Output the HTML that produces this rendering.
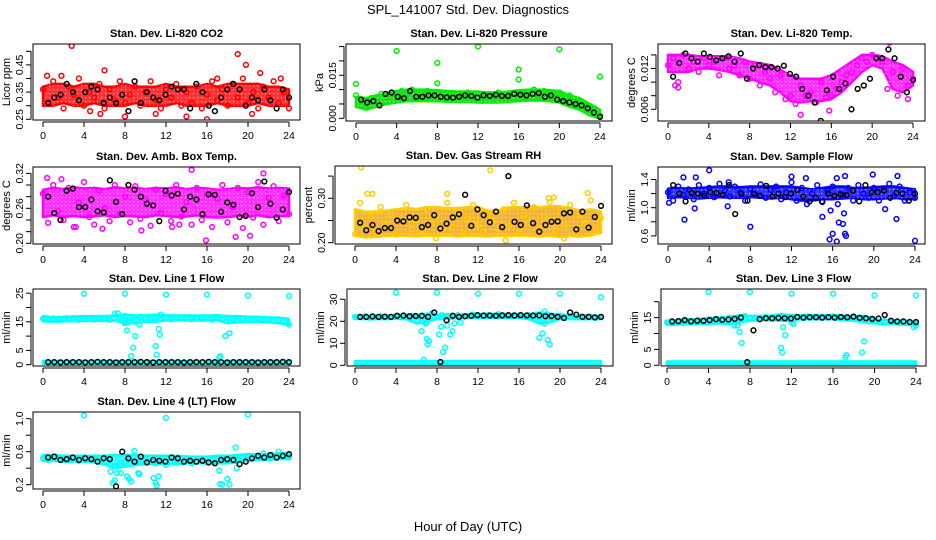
<!DOCTYPE html>
<html><head><meta charset="utf-8"><style>
body{margin:0;background:#fff;}
svg{display:block;font-family:"Liberation Sans",sans-serif;}
</style></head><body>
<svg id="chart" width="936" height="540" viewBox="0 0 936 540" xmlns="http://www.w3.org/2000/svg">
<defs>
<pattern id="speck" width="4" height="4" patternUnits="userSpaceOnUse"><rect x="1" y="1" width="1.2" height="1.2" fill="#fff" fill-opacity="0.55"/></pattern>
</defs>
<rect width="936" height="540" fill="#fff"/>
<text x="468" y="14" font-size="13" text-anchor="middle">SPL_141007  Std. Dev. Diagnostics</text>
<text x="468" y="531" font-size="13" text-anchor="middle">Hour of Day (UTC)</text>
</svg>
<script>
const xTicks=[0,4,8,12,16,20,24];
// CO2
const co2Lo=[0.30,0.30,0.31,0.30,0.30,0.31,0.30,0.30,0.30,0.31,0.30,0.30,0.30,0.31,0.30,0.30,0.30,0.31,0.30,0.30,0.30,0.31,0.30,0.30,0.30];
const co2Hi=[0.37,0.38,0.38,0.37,0.38,0.38,0.37,0.37,0.38,0.37,0.37,0.37,0.38,0.37,0.37,0.37,0.38,0.37,0.38,0.38,0.38,0.38,0.37,0.37,0.36];
const co2Vals=[0.36,0.31,0.39,0.33,0.29,0.37,0.34,0.40,0.30,0.35,0.33,0.38,0.29,0.36,0.32,0.39,0.31,0.34,0.37,0.30,0.35,0.39,0.32,0.29,0.36,0.33,0.38,0.30,0.35,0.31,0.37,0.29,0.34,0.39,0.32,0.36,0.30,0.38,0.33,0.40,0.31,0.35,0.29,0.37,0.33,0.39,0.31,0.35,0.29];
const co2Black=[0.31,0.33,0.34,0.38,0.35,0.32,0.35,0.37,0.36,0.31,0.33,0.31,0.34,0.28,0.39,0.31,0.35,0.33,0.32,0.34,0.37,0.36,0.36,0.29,0.38,0.35,0.30,0.28,0.33,0.36,0.38,0.36,0.30,0.33,0.32,0.36,0.32,0.29,0.36,0.33];
const co2OutX=[2.8,19,19.8,6,0.4,4.6,5.6,8,11,14,16,20.4,17,21.2,23.2,1.8];
const co2OutY=[0.52,0.49,0.45,0.43,0.41,0.28,0.27,0.26,0.27,0.26,0.25,0.27,0.40,0.42,0.40,0.41];
const co2Ticks=[0.25,0.30,0.35,0.40,0.45,0.50];
const co2Labels=["0.25","","0.35","","0.45",""];
// Pressure
const prLo=[0.0040,0.0030,0.0040,0.0050,0.0055,0.0060,0.0060,0.0060,0.0060,0.0058,0.0058,0.0058,0.0055,0.0055,0.0055,0.0058,0.0060,0.0062,0.0062,0.0060,0.0055,0.0040,0.0030,0.0010,0.0000];
const prHi=[0.0075,0.0070,0.0080,0.0085,0.0095,0.0100,0.0100,0.0100,0.0098,0.0095,0.0093,0.0093,0.0093,0.0090,0.0090,0.0093,0.0098,0.0100,0.0100,0.0098,0.0095,0.0080,0.0070,0.0050,0.0030];
const prVals=[0.0080,0.0060,0.0050,0.0070,0.0060,0.0085,0.0075,0.0090,0.0070,0.0095,0.0080,0.0100,0.0085,0.0075,0.0095,0.0080,0.0070,0.0090,0.0075,0.0085,0.0070,0.0080,0.0090,0.0075,0.0085,0.0070,0.0080,0.0065,0.0090,0.0075,0.0080,0.0070,0.0085,0.0090,0.0075,0.0100,0.0080,0.0095,0.0085,0.0075,0.0090,0.0070,0.0080,0.0060,0.0050,0.0040,0.0030,0.0015,0.0010];
const prBlack=[0.0065,0.0055,0.0060,0.0045,0.0085,0.0090,0.0075,0.0070,0.0095,0.0075,0.0075,0.0080,0.0080,0.0075,0.0073,0.0072,0.0075,0.0080,0.0078,0.0072,0.0080,0.0078,0.0082,0.0078,0.0078,0.0085,0.0082,0.0080,0.0085,0.0088,0.0075,0.0080,0.0065,0.0060,0.0055,0.0050,0.0045,0.0035,0.0020,0.0005];
const prOutX=[0,4,8,8,12,16,16,20,24];
const prOutY=[0.0120,0.0235,0.0193,0.0122,0.0250,0.0170,0.0135,0.0240,0.0145];
const prTicks=[0,0.005,0.010,0.015,0.020,0.025];
const prLabels=["0.000","","","0.015","",""];
// Li-820 temp
const tpLo=[0.0115,0.0115,0.0115,0.0120,0.0120,0.0118,0.0115,0.0110,0.0105,0.0100,0.0095,0.0085,0.0072,0.0070,0.0072,0.0072,0.0075,0.0085,0.0100,0.0115,0.0125,0.0120,0.0090,0.0085,0.0095];
const tpHi=[0.0140,0.0140,0.0140,0.0138,0.0138,0.0138,0.0138,0.0135,0.0130,0.0128,0.0125,0.0118,0.0110,0.0105,0.0105,0.0105,0.0110,0.0120,0.0130,0.0140,0.0140,0.0138,0.0130,0.0125,0.0115];
const tpVals=[0.0125,0.0135,0.0100,0.0140,0.0120,0.0130,0.0115,0.0135,0.0125,0.0130,0.0110,0.0135,0.0120,0.0125,0.0110,0.0130,0.0105,0.0125,0.0095,0.0115,0.0105,0.0085,0.0110,0.0075,0.0080,0.0068,0.0095,0.0080,0.0085,0.0070,0.0100,0.0078,0.0080,0.0090,0.0100,0.0110,0.0115,0.0125,0.0135,0.0130,0.0140,0.0135,0.0130,0.0090,0.0115,0.0080,0.0120,0.0095,0.0105];
const tpBlack=[0.0108,0.0128,0.0142,0.0135,0.0130,0.0142,0.0137,0.0132,0.0135,0.0138,0.0130,0.0142,0.0105,0.0120,0.0125,0.0122,0.0122,0.0120,0.0124,0.0112,0.0108,0.0090,0.0080,0.0070,0.0043,0.0088,0.0108,0.0090,0.0098,0.0060,0.0090,0.0095,0.0105,0.0135,0.0135,0.0148,0.0135,0.0108,0.0085,0.0103];
const tpOutX=[13,15.8,21.7,23.5,0.7,1];
const tpOutY=[0.0052,0.0058,0.0158,0.0075,0.0095,0.0092];
const tpTicks=[0.006,0.008,0.010,0.012,0.014];
const tpLabels=["0.006","","","0.012",""];
// Amb box temp
const amLo=[0.245,0.248,0.245,0.247,0.245,0.246,0.248,0.245,0.247,0.246,0.245,0.248,0.247,0.245,0.246,0.248,0.245,0.244,0.245,0.247,0.246,0.248,0.245,0.246,0.247];
const amHi=[0.292,0.295,0.293,0.296,0.294,0.295,0.293,0.296,0.294,0.295,0.293,0.295,0.294,0.296,0.293,0.295,0.294,0.292,0.293,0.295,0.294,0.296,0.294,0.295,0.294];
const amVals=[0.285,0.235,0.300,0.255,0.240,0.295,0.228,0.270,0.305,0.245,0.232,0.290,0.260,0.238,0.300,0.250,0.280,0.236,0.298,0.242,0.275,0.230,0.292,0.252,0.285,0.238,0.300,0.246,0.270,0.232,0.295,0.240,0.284,0.228,0.276,0.300,0.236,0.262,0.295,0.226,0.288,0.244,0.305,0.232,0.278,0.298,0.238,0.282,0.250];
const amBlack=[0.280,0.252,0.240,0.290,0.294,0.262,0.262,0.275,0.255,0.253,0.308,0.271,0.250,0.300,0.292,0.280,0.268,0.265,0.238,0.290,0.282,0.285,0.258,0.280,0.275,0.250,0.284,0.283,0.254,0.270,0.266,0.245,0.247,0.286,0.262,0.306,0.268,0.244,0.258,0.288];
const amOutX=[14.5,21.5,15.9,18.8,20.2,0.4,1.8,5.8,9.6,3.2,12.6,13.3];
const amOutY=[0.326,0.320,0.205,0.211,0.213,0.312,0.310,0.225,0.222,0.228,0.228,0.232];
const amTicks=[0.20,0.22,0.24,0.26,0.28,0.30,0.32];
const amLabels=["0.20","","","0.26","","","0.32"];
// Gas stream RH
const rhLo=[0.215,0.212,0.213,0.215,0.216,0.215,0.214,0.216,0.215,0.216,0.214,0.215,0.215,0.214,0.216,0.215,0.216,0.215,0.214,0.215,0.213,0.215,0.214,0.216,0.222];
const rhHi=[0.275,0.270,0.270,0.272,0.275,0.278,0.276,0.280,0.280,0.278,0.278,0.280,0.280,0.272,0.272,0.280,0.280,0.282,0.280,0.282,0.282,0.278,0.272,0.275,0.270];
const rhVals=[0.220,0.290,0.235,0.260,0.225,0.280,0.240,0.265,0.218,0.255,0.285,0.230,0.250,0.220,0.275,0.245,0.260,0.230,0.290,0.235,0.270,0.222,0.255,0.285,0.240,0.225,0.265,0.248,0.230,0.275,0.238,0.290,0.220,0.262,0.245,0.280,0.230,0.258,0.292,0.228,0.270,0.240,0.285,0.222,0.262,0.245,0.295,0.230,0.255];
const rhBlack=[0.245,0.228,0.240,0.226,0.233,0.233,0.250,0.248,0.257,0.256,0.235,0.240,0.262,0.232,0.243,0.257,0.264,0.308,0.238,0.275,0.262,0.246,0.270,0.235,0.350,0.247,0.240,0.284,0.244,0.225,0.240,0.247,0.248,0.266,0.268,0.230,0.270,0.234,0.258,0.283];
const rhOutX=[0.6,13.2,1.2,1.7,18.9,22.7,14.7,7.9,20.4,9,19.4];
const rhOutY=[0.370,0.363,0.310,0.310,0.300,0.312,0.205,0.210,0.210,0.310,0.302];
const rhTicks=[0.20,0.25,0.30,0.35];
const rhLabels=["0.20","","0.30",""];
// Sample flow
const sfLo=[1.14,1.15,1.14,1.13,1.14,1.15,1.14,1.14,1.15,1.14,1.13,1.14,1.12,1.10,1.10,1.12,1.12,1.13,1.14,1.12,1.12,1.13,1.14,1.12,1.12];
const sfHi=[1.27,1.28,1.27,1.28,1.29,1.30,1.30,1.29,1.30,1.30,1.30,1.30,1.30,1.28,1.26,1.28,1.30,1.30,1.28,1.28,1.29,1.30,1.30,1.28,1.26];
const sfVals=[1.22,1.10,1.30,1.18,1.26,1.12,1.32,1.20,1.28,1.15,1.34,1.24,1.16,1.30,1.22,1.10,1.27,1.19,1.33,1.14,1.25,1.30,1.12,1.22,1.36,1.10,1.28,1.05,1.20,1.32,1.08,1.24,1.30,1.05,1.18,1.28,1.10,1.32,1.20,1.14,1.28,1.10,1.24,1.34,1.16,1.30,1.10,1.22,1.14];
const sfBlack=[1.32,1.20,1.09,1.21,1.20,1.17,1.22,1.21,1.18,1.32,0.91,1.20,1.10,1.20,1.17,1.31,1.16,1.20,1.15,1.20,1.25,1.16,1.09,1.14,1.09,1.20,1.17,1.19,1.18,1.24,1.09,1.32,1.22,1.22,1.24,1.14,1.21,1.20,1.10,1.20];
const sfOutX=[0.1,1.5,1.6,2.7,2.6,4,5.8,8,12,13.4,15,15.7,15.8,16,16.4,16.6,17,17.1,17.2,17.3,17.2,19.9,22.2,22.3,24,16.4,21.1,5.9];
const sfOutY=[1.07,1.43,0.83,1.43,0.99,1.53,1.02,0.73,1.44,1.42,0.87,0.55,0.96,0.63,0.52,0.79,0.77,0.92,0.63,0.60,1.45,1.47,0.84,1.45,0.53,1.42,0.98,1.36];
const sfTicks=[0.6,0.8,1.0,1.2,1.4];
const sfLabels=["0.6","","1.0","","1.4"];
// Line 1
const l1Lo=[15.2,15.0,15.2,15.2,15.3,15.3,15.3,15.4,14.5,14.5,15.0,15.0,15.5,15.5,15.5,15.5,15.5,15.5,14.5,14.8,15.0,15.0,14.8,14.5,14.0];
const l1Hi=[17.0,16.5,16.8,16.8,17.0,17.0,17.0,17.2,17.5,17.2,17.2,17.5,17.3,17.2,17.2,17.2,17.2,17.3,17.0,17.0,16.8,16.8,16.5,16.5,16.0];
const l1BaseLo=[0.3,0.3,0.3,0.3,0.3,0.3,0.3,0.3,0.3,0.3,0.3,0.3,0.3,0.3,0.3,0.3,0.3,0.3,0.3,0.3,0.3,0.3,0.3,0.3,0.3];
const l1BaseHi=[1.3,1.3,1.3,1.3,1.3,1.3,1.3,1.3,1.3,1.3,1.3,1.3,1.3,1.3,1.3,1.3,1.3,1.3,1.3,1.3,1.3,1.3,1.3,1.3,1.3];
const l1Vals=[16.0,15.8,16.2,15.6,16.1,15.9,16.3,15.7,16.0,16.2,15.8,16.4,16.0,15.7,17.8,16.5,14.5,16.2,15.6,16.8,16.0,15.8,16.3,16.0,16.4,15.9,16.2,16.5,16.1,15.9,16.3,16.0,16.5,15.8,16.2,15.9,16.4,16.0,15.5,16.1,15.8,15.6,15.9,15.5,15.7,15.4,15.6,15.2,14.0];
const l1Black=[0.9,0.9,0.8,0.9,0.9,0.9,0.8,0.9,1.0,0.9,0.9,0.8,0.9,0.9,0.9,1.0,0.9,0.8,0.9,0.9,0.9,0.9,0.8,0.9,0.9,0.9,1.0,0.9,0.9,0.8,0.9,0.9,0.9,0.9,0.8,0.9,0.9,0.9,1.0,0.9];
const l1OutX=[4,8,12,16,20,24,7.3,8,8.2,8.4,8.6,8.8,9,9.4,11,11.1,11.3,11.4,11.5,17.3,17.2,17.8,18.2,15.8,17];
const l1OutY=[24.8,24.8,24.5,24.5,24.2,24,18,17,12,15,3,6,10,14,6.5,3.5,12.5,10.5,17.5,3,2.5,10,11,0,0];
const l1Ticks=[0,5,10,15,20,25];
const l1Labels=["0","5","","15","","25"];
// Line 2
const l2Lo=[21.2,21.0,21.0,21.0,21.2,21.0,19.0,20.0,21.0,21.2,21.5,21.5,21.5,21.5,21.5,21.5,21.5,21.0,19.0,19.5,21.0,21.0,21.0,21.0,21.0];
const l2Hi=[22.5,22.5,22.5,22.5,22.8,22.8,22.5,23.5,23.0,23.0,23.0,23.0,23.2,23.5,23.2,23.2,23.2,23.0,24.0,23.5,23.0,22.8,22.5,22.5,22.5];
const l2BaseLo=[0.3,0.3,0.3,0.3,0.3,0.3,0.3,0.3,0.3,0.3,0.3,0.3,0.3,0.3,0.3,0.3,0.3,0.3,0.3,0.3,0.3,0.3,0.3,0.3,0.3];
const l2BaseHi=[1.8,1.8,1.8,1.8,1.8,1.8,1.8,1.8,1.8,1.8,1.8,1.8,1.8,1.8,1.8,1.8,1.8,1.8,1.8,1.8,1.8,1.8,1.8,1.8,1.8];
const l2Vals=[22.0,21.8,22.2,21.6,22.0,22.3,21.8,22.0,22.4,21.9,22.2,22.5,22.0,20.0,19.5,23.5,22.2,22.8,22.5,22.0,22.8,22.3,22.5,23.0,22.6,22.4,22.8,22.5,23.2,22.6,22.4,22.8,22.6,22.3,22.7,22.5,20.0,23.0,22.0,21.5,22.6,22.0,22.3,21.8,22.0,21.7,22.1,21.6,21.9];
const l2Black=[22.0,22.0,22.2,22.0,22.1,22.0,22.5,22.6,22.3,22.4,22.5,22.0,24.0,1.5,20.5,22.5,22.0,22.3,22.5,22.8,22.6,22.6,22.5,22.7,22.8,22.6,22.8,22.7,22.6,22.7,22.3,22.4,22.0,21.5,24.0,23.0,22.0,22.0,21.8,22.0];
const l2OutX=[4,8,12,16,20,24,6.5,6.7,6.9,7,7.1,7.2,8.2,8.4,8.6,8.8,9,9.3,9.5,9.7,10.3,18,18.3,18.5,18.8,19,18.5];
const l2OutY=[33,33,32.5,32.5,32.5,31,15.5,2.5,19,12,9.5,11,14,17.5,6,8,18,14,15.5,19,19.5,12.5,14.5,19,11.5,9.5,24.5];
const l2Ticks=[0,10,20,30];
const l2Labels=["0","10","20","30"];
// Line 3
const l3Lo=[12.8,12.8,13.0,13.0,13.0,13.2,13.0,13.5,14.0,14.2,14.2,14.0,14.2,14.5,14.5,14.5,14.5,14.2,14.0,13.5,13.2,13.0,13.0,12.8,12.5];
const l3Hi=[14.0,14.2,14.5,14.5,14.8,15.0,15.2,15.8,15.5,15.5,15.6,16.0,15.8,15.8,15.8,15.8,15.8,15.5,15.5,15.5,14.5,14.2,14.2,14.0,13.8];
const l3BaseLo=[0.2,0.2,0.2,0.2,0.2,0.2,0.2,0.2,0.2,0.2,0.2,0.2,0.2,0.2,0.2,0.2,0.2,0.2,0.2,0.2,0.2,0.2,0.2,0.2,0.2];
const l3BaseHi=[1.2,1.2,1.2,1.2,1.2,1.2,1.2,1.2,1.2,1.2,1.2,1.2,1.2,1.2,1.2,1.2,1.2,1.2,1.2,1.2,1.2,1.2,1.2,1.2,1.2];
const l3Vals=[13.5,13.2,13.8,13.4,14.0,13.6,14.2,13.8,14.4,14.0,14.6,14.2,15.0,12.5,13.8,15.5,14.8,15.0,14.6,15.2,14.8,15.0,15.6,14.5,13.5,15.2,15.0,15.4,15.2,15.0,15.3,15.1,15.4,15.2,14.8,15.0,14.6,15.0,14.8,13.8,14.0,13.6,13.8,13.5,13.6,13.4,13.4,13.2,12.5];
const l3Black=[13.8,13.9,14.2,13.8,14.0,14.0,14.2,14.5,14.3,14.4,14.6,15.0,1.0,11.0,14.5,14.8,14.8,14.9,14.8,14.7,15.2,15.0,15.1,15.1,15.0,15.1,15.0,15.2,15.1,15.3,14.9,14.8,14.6,14.7,15.8,14.0,13.8,13.8,13.6,13.6];
const l3OutX=[4,8,12,16,20,24,7,7.2,6.8,11,11.1,11.2,11.4,11.6,12.2,17.2,17.3,18.8,19,23.8];
const l3OutY=[23,23,22.5,22.5,22,22,10.5,7,12.5,5.5,4,12,9.5,15,13,2.5,3.2,4,7.5,12];
const l3Ticks=[0,5,10,15,20];
const l3Labels=["0","5","","15",""];
// Line 4
const l4Lo=[0.49,0.49,0.48,0.48,0.48,0.47,0.45,0.40,0.42,0.44,0.45,0.45,0.45,0.45,0.46,0.46,0.46,0.46,0.46,0.47,0.49,0.50,0.50,0.51,0.51];
const l4Hi=[0.56,0.56,0.55,0.55,0.55,0.55,0.55,0.56,0.56,0.56,0.55,0.55,0.55,0.55,0.54,0.54,0.54,0.55,0.55,0.56,0.57,0.57,0.57,0.58,0.58];
const l4Vals=[0.52,0.50,0.54,0.51,0.53,0.50,0.52,0.49,0.53,0.51,0.50,0.52,0.48,0.44,0.42,0.45,0.47,0.50,0.46,0.48,0.50,0.47,0.46,0.49,0.44,0.48,0.50,0.47,0.49,0.46,0.48,0.50,0.47,0.49,0.51,0.48,0.50,0.52,0.50,0.53,0.55,0.52,0.54,0.53,0.55,0.54,0.56,0.54,0.53];
const l4Black=[0.53,0.54,0.50,0.51,0.53,0.50,0.52,0.51,0.48,0.52,0.51,0.18,0.60,0.52,0.48,0.54,0.47,0.50,0.49,0.48,0.53,0.52,0.48,0.49,0.48,0.49,0.47,0.46,0.50,0.51,0.50,0.45,0.48,0.52,0.55,0.53,0.56,0.53,0.55,0.57];
const l4OutX=[4,12,20,6.6,6.8,7,7.2,7.6,8.2,8.4,8.6,9.3,9.4,10.8,11,11.1,11.3,17.2,17.3,17.5,18,18.2,18.8,18.9,8.9,21.5,23];
const l4OutY=[1.04,1.01,1.05,0.36,0.22,0.25,0.34,0.34,0.30,0.27,0.24,0.34,0.33,0.28,0.22,0.19,0.30,0.37,0.21,0.20,0.27,0.20,0.65,0.40,0.61,0.58,0.60];
const l4Ticks=[0.2,0.4,0.6,0.8,1.0];
const l4Labels=["0.2","","0.6","","1.0"];

const panels=[
 {id:"co2",title:"Stan. Dev. Li-820 CO2",ylab:"Licor ppm",box:[33,44,300,120],xr:[43,289],yRef:0.25,yPx:119.3,k:272,bands:[[co2Lo,co2Hi]],vals:co2Vals,black:co2Black,ox:co2OutX,oy:co2OutY,ticks:co2Ticks,labels:co2Labels,fill:"#ff0000",stroke:"#ff0000"},
 {id:"pressure",title:"Stan. Dev. Li-820 Pressure",ylab:"kPa",box:[346,44,612,121],xr:[356,600],yRef:0,yPx:118.3,k:2870,bands:[[prLo,prHi]],vals:prVals,black:prBlack,ox:prOutX,oy:prOutY,ticks:prTicks,labels:prLabels,fill:"#00c800",stroke:"#00ee00"},
 {id:"li820-temp",title:"Stan. Dev. Li-820 Temp.",ylab:"degrees C",box:[658,44,925,121],xr:[668,913],yRef:0.006,yPx:109.3,k:6800,bands:[[tpLo,tpHi]],vals:tpVals,black:tpBlack,ox:tpOutX,oy:tpOutY,ticks:tpTicks,labels:tpLabels,fill:"#ff00ff",stroke:"#ff00ff"},
 {id:"amb-box-temp",title:"Stan. Dev. Amb. Box Temp.",ylab:"degrees C",box:[33,167,300,244],xr:[43,289],yRef:0.20,yPx:243.3,k:583,bands:[[amLo,amHi]],vals:amVals,black:amBlack,ox:amOutX,oy:amOutY,ticks:amTicks,labels:amLabels,fill:"#ff00ff",stroke:"#ff00ff"},
 {id:"gas-stream-rh",title:"Stan. Dev. Gas Stream RH",ylab:"percent",box:[335,166,612,244],xr:[355,601],yRef:0.20,yPx:242.7,k:444,bands:[[rhLo,rhHi]],vals:rhVals,black:rhBlack,ox:rhOutX,oy:rhOutY,ticks:rhTicks,labels:rhLabels,fill:"#f0a000",stroke:"#ffcc00"},
 {id:"sample-flow",title:"Stan. Dev. Sample Flow",ylab:"ml/min",box:[658,167,925,244],xr:[668,915],yRef:1.0,yPx:207.7,k:70.5,bands:[[sfLo,sfHi]],vals:sfVals,black:sfBlack,ox:sfOutX,oy:sfOutY,ticks:sfTicks,labels:sfLabels,fill:"#0000ff",stroke:"#0000ff"},
 {id:"line1-flow",title:"Stan. Dev. Line 1 Flow",ylab:"ml/min",box:[33,289,300,366],xr:[43,289],yRef:0,yPx:364.7,k:2.86,bands:[[l1Lo,l1Hi],[l1BaseLo,l1BaseHi]],vals:l1Vals,black:l1Black,ox:l1OutX,oy:l1OutY,ticks:l1Ticks,labels:l1Labels,fill:"#00ffff",stroke:"#00ffff"},
 {id:"line2-flow",title:"Stan. Dev. Line 2 Flow",ylab:"ml/min",box:[347,289,613,366],xr:[355,601],yRef:0,yPx:365.3,k:2.2,bands:[[l2Lo,l2Hi],[l2BaseLo,l2BaseHi]],vals:l2Vals,black:l2Black,ox:l2OutX,oy:l2OutY,ticks:l2Ticks,labels:l2Labels,fill:"#00ffff",stroke:"#00ffff"},
 {id:"line3-flow",title:"Stan. Dev. Line 3 Flow",ylab:"ml/min",box:[661,289,926,366],xr:[667,916],yRef:0,yPx:365.3,k:3.18,bands:[[l3Lo,l3Hi],[l3BaseLo,l3BaseHi]],vals:l3Vals,black:l3Black,ox:l3OutX,oy:l3OutY,ticks:l3Ticks,labels:l3Labels,fill:"#00ffff",stroke:"#00ffff"},
 {id:"line4-flow",title:"Stan. Dev. Line 4 (LT) Flow",ylab:"ml/min",box:[33,412,300,489],xr:[43,289],yRef:0.2,yPx:484.7,k:82.5,bands:[[l4Lo,l4Hi]],vals:l4Vals,black:l4Black,ox:l4OutX,oy:l4OutY,ticks:l4Ticks,labels:l4Labels,fill:"#00ffff",stroke:"#00ffff"}
];
const NS="http://www.w3.org/2000/svg";
const svg=document.getElementById("chart");
function mk(tag,attrs,parent){const e=document.createElementNS(NS,tag);for(const a in attrs)e.setAttribute(a,attrs[a]);parent.appendChild(e);return e;}
panels.forEach(p=>{
 const [l,t,r,b]=p.box;
 const X=h=>p.xr[0]+(p.xr[1]-p.xr[0])*h/24;
 const Y=v=>p.yPx-(v-p.yRef)*p.k;
 const g=mk("g",{},svg);
 
 
 const cp=mk("clipPath",{id:"cp-"+p.id},g);
 mk("rect",{x:l,y:t,width:r-l,height:b-t},cp);
 const plot=mk("g",{"clip-path":"url(#cp-"+p.id+")"},g);
 p.bands.forEach(([lo,hi])=>{
  let d="";
  lo.forEach((v,i)=>{d+=(i?"L":"M")+X(i).toFixed(1)+","+Y(hi[i]).toFixed(1);});
  for(let i=lo.length-1;i>=0;i--)d+="L"+X(i).toFixed(1)+","+Y(lo[i]).toFixed(1);
  const band=mk("path",{d:d+"Z",fill:p.fill,"fill-opacity":"0.8",stroke:p.stroke,"stroke-width":"2.5","stroke-linejoin":"round"},plot);
  
  
  mk("path",{d:d+"Z",fill:"url(#speck)"},plot);
 });
 p.vals.forEach((v,i)=>{
  const c=mk("circle",{cx:X(i*24/(p.vals.length-1)),cy:Y(v),r:2.4,fill:"none",stroke:p.stroke,"stroke-width":1.5},plot);
  
  
 });
 p.ox.forEach((h,i)=>{
  const c=mk("circle",{cx:X(h),cy:Y(p.oy[i]),r:2.4,fill:"none",stroke:p.stroke,"stroke-width":1.5},plot);
  
  
 });
 p.black.forEach((v,i)=>{
  const c=mk("circle",{cx:X(0.5+i*23.5/(p.black.length-1)),cy:Y(v),r:2.4,fill:"none",stroke:"#000","stroke-width":1.5},plot);
  
  
 });
 const box=mk("rect",{x:l,y:t,width:r-l,height:b-t,fill:"none",stroke:"#000","stroke-width":1},g);
 
 
 const ti=mk("text",{x:(l+r)/2,y:t-7,"font-size":"11","font-weight":"bold","text-anchor":"middle"},g);
 ti.textContent=p.title;
 
 
 const ax=b+2;
 mk("line",{x1:X(0),x2:X(24),y1:ax,y2:ax,stroke:"#000","stroke-width":1},g);
 xTicks.forEach(h=>{
  mk("line",{x1:X(h),x2:X(h),y1:ax,y2:ax+5,stroke:"#000","stroke-width":1},g);
  const tl=mk("text",{x:X(h),y:ax+17,"font-size":"10.5","text-anchor":"middle"},g);
  tl.textContent=String(h);
  
  
 });
 const yl=l-2;
 mk("line",{x1:yl,x2:yl,y1:Y(p.ticks[0]),y2:Y(p.ticks[p.ticks.length-1]),stroke:"#000","stroke-width":1},g);
 p.ticks.forEach((v,i)=>{
  mk("line",{x1:yl-5,x2:yl,y1:Y(v),y2:Y(v),stroke:"#000","stroke-width":1},g);
  if(p.labels[i]){
   const tl=mk("text",{x:0,y:0,"font-size":"10.5","text-anchor":"middle",transform:"translate("+(yl-8)+","+Y(v)+") rotate(-90)"},g);
   tl.textContent=p.labels[i];
   
   
  }
 });
 const yt=mk("text",{x:0,y:0,"font-size":"11","text-anchor":"middle",transform:"translate("+(l-23)+","+((t+b)/2)+") rotate(-90)"},g);
 yt.textContent=p.ylab;
 
 
});
</script>
</body></html>
